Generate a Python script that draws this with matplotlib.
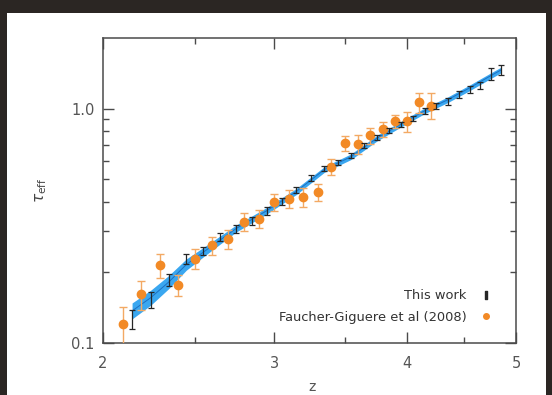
"""Effective optical depth vs redshift: this work vs Faucher-Giguere et al (2008)."""
import matplotlib
matplotlib.use("Agg")
import matplotlib.pyplot as plt
from matplotlib.lines import Line2D
from matplotlib.patches import Rectangle
from matplotlib.ticker import FixedLocator, NullFormatter
import numpy as np

# "This work" binned measurements
z_tw = [2.15, 2.25, 2.35, 2.45, 2.55, 2.65, 2.75, 2.85, 2.95, 3.05,
        3.15, 3.25, 3.35, 3.45, 3.55, 3.65, 3.75, 3.85, 3.95, 4.05,
        4.15, 4.25, 4.35, 4.45, 4.55, 4.65, 4.75, 4.85]
tau_tw = [0.1265, 0.1524, 0.1854, 0.2277, 0.2464, 0.2825, 0.3057, 0.3305, 0.3645, 0.402,
          0.448, 0.504, 0.556, 0.589, 0.631, 0.696, 0.753, 0.806, 0.859, 0.907,
          0.98, 1.03, 1.07, 1.148, 1.205, 1.253, 1.409, 1.466]
err_tw = [0.012, 0.012, 0.011, 0.011, 0.010, 0.011, 0.012, 0.013, 0.014, 0.014,
          0.013, 0.015, 0.014, 0.015, 0.016, 0.017, 0.019, 0.020, 0.021, 0.023,
          0.029, 0.031, 0.037, 0.040, 0.042, 0.044, 0.085, 0.074]

# Faucher-Giguere et al (2008)
z_fg = [2.1, 2.2, 2.3, 2.4, 2.5, 2.6, 2.7, 2.8, 2.9, 3.0, 3.1,
        3.2, 3.3, 3.4, 3.5, 3.6, 3.7, 3.8, 3.9, 4.0, 4.1, 4.2]
tau_fg = [0.1205, 0.1612, 0.2148, 0.1766, 0.2293, 0.2612, 0.2771, 0.3282, 0.3394, 0.399, 0.4128,
          0.4194, 0.4404, 0.5625, 0.7116, 0.7076, 0.768, 0.8166, 0.883, 0.883, 1.0636, 1.03]
err_fg = [0.022, 0.023, 0.026, 0.018, 0.022, 0.023, 0.025, 0.029, 0.030, 0.035, 0.036,
          0.038, 0.038, 0.044, 0.055, 0.066, 0.060, 0.063, 0.055, 0.085, 0.105, 0.130]

# fitted curve (centre) and its half-width in dex
z_fit = [2.15, 2.25, 2.35, 2.45, 2.55, 2.75, 2.95, 3.15, 3.35, 3.55,
         3.75, 3.95, 4.15, 4.35, 4.55, 4.75, 4.85]
tau_fit = [0.137, 0.156, 0.182, 0.216, 0.244, 0.3075, 0.367, 0.443, 0.5497, 0.6237,
           0.7467, 0.8603, 0.98, 1.09, 1.225, 1.38, 1.46]
hw_fit = [0.034, 0.032, 0.028, 0.024, 0.020, 0.015, 0.014, 0.013, 0.012, 0.012,
          0.012, 0.012, 0.012, 0.012, 0.012, 0.012, 0.012]

X_TICKS = [2, 3, 4, 5]
X_MINOR = [2.5, 3.5, 4.5]

ORANGE = "#f28a26"
ORANGE_ERR = "#f3a964"
BLUE = "#3aa7f0"
GREY = "#4a4a4a"

fig = plt.figure(figsize=(5.52, 3.95), dpi=100)
fig.patch.set_facecolor("white")
# dark surround of the photographed screen
for x0, y0, w, h in [(0, 1 - 13 / 395, 1, 13 / 395), (0, 0, 7 / 552, 1), (546 / 552, 0, 6 / 552, 1)]:
    fig.add_artist(Rectangle((x0, y0), w, h, transform=fig.transFigure,
                             facecolor="#2b2623", edgecolor="none", zorder=10))

ax = fig.add_axes([103 / 552, 1 - 343 / 395, 413 / 552, 305 / 395])
ax.set_xscale("log")
ax.set_yscale("log")

# x axis is log(1+z), labelled in z
x_tw = 1 + np.array(z_tw)
x_fg = 1 + np.array(z_fg)
x_fit = 1 + np.array(z_fit)
tf = np.array(tau_fit)
hw = np.array(hw_fit)

ax.fill_between(x_fit, tf * 10 ** -hw, tf * 10 ** hw, color=BLUE, lw=0, zorder=1)
ax.plot(x_fit, tf, color="#1b6fc2", lw=0.7, zorder=2)

ax.errorbar(x_fg, tau_fg, yerr=err_fg, fmt="o", color=ORANGE, ms=6, mec=ORANGE,
            ecolor=ORANGE_ERR, elinewidth=1.0, capsize=2.6, capthick=1.0, zorder=3)
ax.errorbar(x_tw, tau_tw, yerr=err_tw, fmt="none", ecolor="#262626",
            elinewidth=0.9, capsize=2.4, capthick=0.9, zorder=4)

ax.set_xlim(3, 6)
ax.set_ylim(0.1, 2.0)

ax.xaxis.set_major_locator(FixedLocator([1 + z for z in X_TICKS]))
ax.xaxis.set_minor_locator(FixedLocator([1 + z for z in X_MINOR]))
ax.set_xticklabels([str(z) for z in X_TICKS])
ax.xaxis.set_minor_formatter(NullFormatter())
ax.yaxis.set_major_locator(FixedLocator([0.1, 1.0]))
ax.yaxis.set_minor_locator(FixedLocator([0.2, 0.3, 0.4, 0.5, 0.6, 0.7, 0.8, 0.9]))
ax.set_yticklabels(["0.1", "1.0"])
ax.yaxis.set_minor_formatter(NullFormatter())

ax.tick_params(which="both", direction="in", top=True, right=True, color=GREY,
               labelcolor="#555555", labelsize=10.5)
ax.tick_params(which="major", length=8, width=1.0)
ax.tick_params(which="minor", length=4.5, width=1.0)
ax.tick_params(axis="x", pad=9)
ax.tick_params(axis="y", pad=6)
for s in ax.spines.values():
    s.set_color(GREY)
    s.set_linewidth(1.1)

ax.set_xlabel("z", color="#555555", fontsize=10)
ax.xaxis.set_label_coords(0.505, -0.12)
ax.set_ylabel(r"$\tau_{\rm eff}$", color="#444444", fontsize=11)
ax.yaxis.set_label_coords(-0.13, 0.5)

handles = [Line2D([], [], ls="none", marker="$\\mathrm{I}$", color="#262626", ms=6),
           Line2D([], [], ls="none", marker="o", color=ORANGE, ms=4)]
ax.legend(handles, ["This work", "Faucher-Giguere et al (2008)"], loc="lower right",
          bbox_to_anchor=(0.972, 0.025), frameon=False, markerfirst=False,
          fontsize=9.4, labelcolor="#333333", handlelength=1.0, handletextpad=1.0,
          labelspacing=0.65)

fig.savefig("out.png", dpi=100)
